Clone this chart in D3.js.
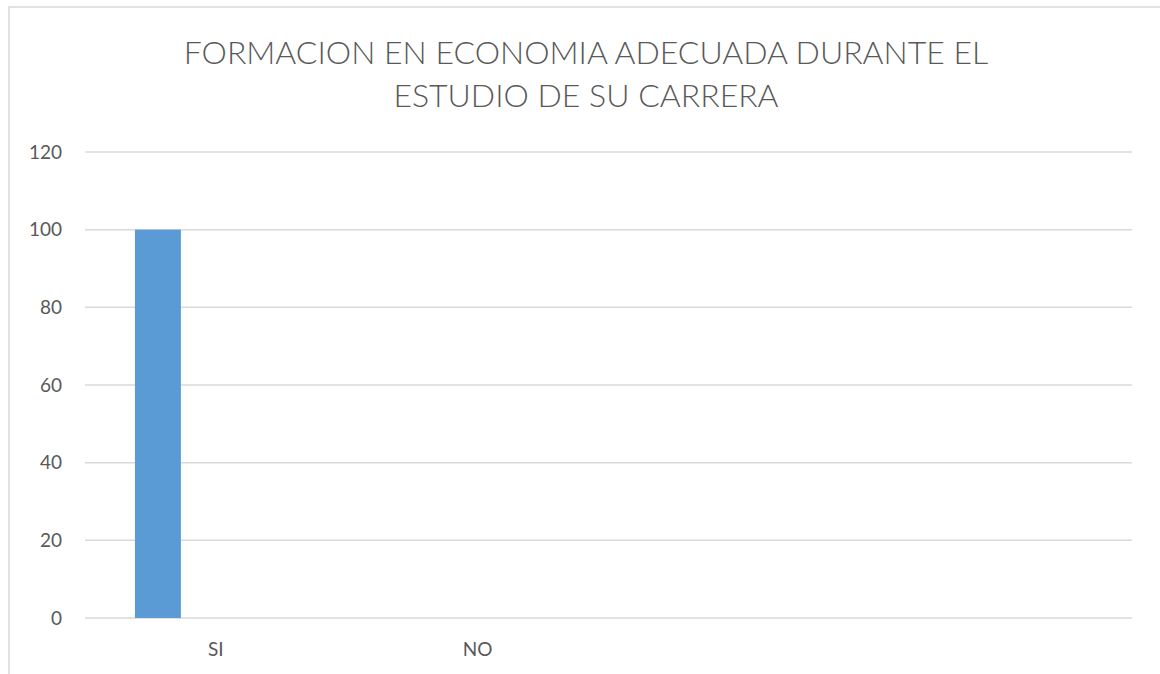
<!DOCTYPE html>
<html>
<head>
<meta charset="utf-8">
<script src="https://cdn.jsdelivr.net/npm/d3@7"></script>
<style>
  body { margin: 0; background: #fff; }
  text { font-family: Lato, "Open Sans", sans-serif; fill: #595959; }
</style>
</head>
<body>
<svg width="1160" height="674"></svg>
<script>
const categories = ["SI", "NO", "", " "];
const series = ["Serie1", "Serie2", "Serie3"];
const values = [
  [100, 0, 0],
  [0, 0, 0],
  [0, 0, 0],
  [0, 0, 0]
];
const yTicks = [0, 20, 40, 60, 80, 100, 120];
const titleLines = ["FORMACION EN ECONOMIA ADECUADA DURANTE EL", "ESTUDIO DE SU CARRERA"];

const svg = d3.select("svg");
const width = parseInt(svg.attr("width"));
const height = parseInt(svg.attr("height"));

// chart frame
svg.append("rect")
  .attr("x", 9).attr("y", 7)
  .attr("width", width + 20).attr("height", height + 20)
  .attr("fill", "none")
  .attr("stroke", "#d9d9d9")
  .attr("stroke-width", 1.5);

const margin = { left: 85, right: 28, top: 152, bottom: 56 };

const x = d3.scaleBand()
  .domain(categories)
  .range([margin.left, width - margin.right]);

const xs = d3.scaleBand()
  .domain(series)
  .range([0, x.bandwidth()])
  .paddingInner(0.207)
  .paddingOuter(0.862);

const y = d3.scaleLinear()
  .domain([0, 120])
  .range([height - margin.bottom, margin.top]);

// gridlines
svg.append("g")
  .selectAll("line")
  .data(yTicks)
  .join("line")
  .attr("x1", margin.left)
  .attr("x2", width - margin.right)
  .attr("y1", d => y(d))
  .attr("y2", d => y(d))
  .attr("stroke", "#d9d9d9")
  .attr("stroke-width", 1.5);

// y labels
const yAxis = svg.append("g")
  .attr("transform", `translate(${margin.left}, 0)`)
  .call(d3.axisLeft(y).tickValues(yTicks).tickSize(0).tickPadding(23));
yAxis.select(".domain").remove();
yAxis.selectAll("text").attr("font-size", 19).attr("fill", "#595959");

// bars
const groups = svg.append("g")
  .selectAll("g")
  .data(categories)
  .join("g")
  .attr("transform", d => `translate(${x(d)}, 0)`);

groups.selectAll("rect")
  .data((d, i) => values[i].map((v, j) => ({ s: series[j], v })))
  .join("rect")
  .attr("x", d => xs(d.s))
  .attr("width", xs.bandwidth())
  .attr("y", d => y(d.v))
  .attr("height", d => y(0) - y(d.v))
  .attr("fill", "#5b9bd5");

// x labels
const xAxis = svg.append("g")
  .attr("transform", `translate(0, ${height - margin.bottom})`)
  .call(d3.axisBottom(x).tickSize(0).tickPadding(25));
xAxis.select(".domain").remove();
xAxis.selectAll("text").attr("font-size", 19).attr("fill", "#595959");

// title
svg.append("g")
  .selectAll("text")
  .data(titleLines)
  .join("text")
  .attr("x", 586)
  .attr("y", (d, i) => 64 + i * 43)
  .attr("text-anchor", "middle")
  .attr("font-size", 32)
  .attr("font-weight", 300)
  .text(d => d);
</script>
</body>
</html>
